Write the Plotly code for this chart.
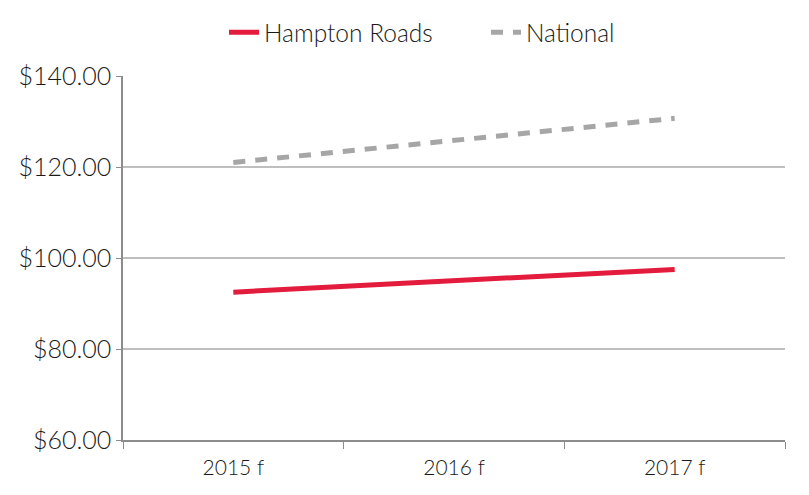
import plotly.graph_objects as go

years = ["2015 f", "2016 f", "2017 f"]
hampton_roads = [92.5, 95.0, 97.5]
national = [121.0, 125.9, 130.7]
y_ticks = [60, 80, 100, 120, 140]

fig = go.Figure()
fig.add_trace(go.Scatter(
    x=years, y=hampton_roads, name="Hampton Roads", mode="lines",
    line=dict(color="#e31b3c", width=5),
))
fig.add_trace(go.Scatter(
    x=years, y=national, name="National", mode="lines",
    line=dict(color="#a6a6a6", width=5, dash="12px,10px"),
))

# page has an 8px body margin, so margins are shifted to line up the plot area
fig.update_layout(
    width=809, height=495,
    margin=dict(l=115, r=32, t=68, b=63, autoexpand=False),
    paper_bgcolor="white", plot_bgcolor="white",
    font=dict(family="Lato", size=22, color="#1a1a1a", weight=300),
    showlegend=True,
    legend=dict(orientation="h", xref="container", x=0.267, xanchor="left",
                yref="container", y=0.951, yanchor="middle",
                font=dict(size=24.5), entrywidth=217),
)
fig.update_xaxes(
    type="category", range=[-0.5, 2.5],
    showline=True, linecolor="#8c8c8c", linewidth=1.5,
    ticks="outside", tickson="boundaries", ticklen=7, tickcolor="#8c8c8c",
    showgrid=False, tickfont=dict(size=21), ticklabelstandoff=8,
)
fig.update_yaxes(
    range=[60, 140], tickvals=y_ticks,
    ticktext=[f"${v:.2f}" for v in y_ticks],
    showline=True, linecolor="#8c8c8c", linewidth=1.5,
    ticks="outside", ticklen=5, tickcolor="#8c8c8c",
    showgrid=True, gridcolor="#bfbfbf", gridwidth=1.5,
    zeroline=False, tickfont=dict(size=25),
)

fig.write_html("out.html")
